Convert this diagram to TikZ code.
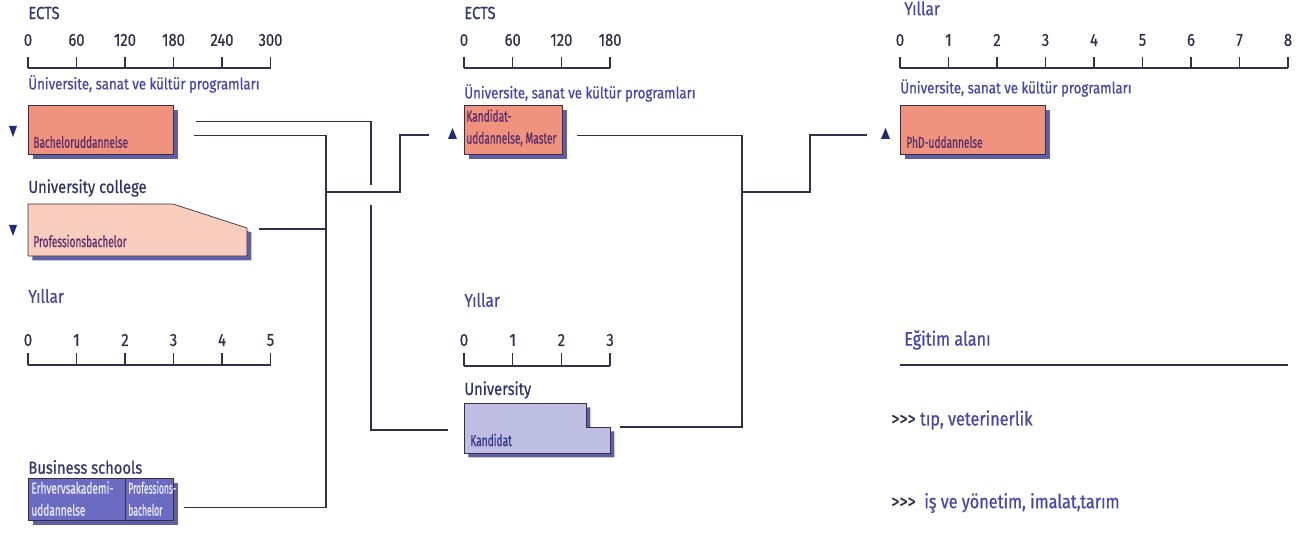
\documentclass[tikz,border=0pt]{standalone}
\usepackage{fontspec}
\setmainfont{Fira Sans}[FakeStretch=0.84, FakeBold=0.6]
\newfontfamily\narrowfont{Fira Sans}[FakeStretch=0.64, FakeBold=0.6]
\newfontfamily\tightfont{Fira Sans}[FakeStretch=0.54, FakeBold=0.6]
\usetikzlibrary{calc}
\usetikzlibrary{shadows}
\definecolor{navytext}{HTML}{30356E}
\definecolor{bluetext}{HTML}{4646AE}
\definecolor{linegrey}{HTML}{2E3148}
\definecolor{salmon}{HTML}{F0937E}
\definecolor{palesalmon}{HTML}{F9CDBE}
\definecolor{lavender}{HTML}{BEBEE3}
\definecolor{slateblue}{HTML}{6B6BC2}
\definecolor{boxshadow}{HTML}{2A2A8A}
\definecolor{boxedge}{HTML}{3A2E40}
\definecolor{marker}{HTML}{1E2A7E}
\definecolor{plum}{HTML}{5B2D6B}

\tikzset{
  conn/.style={draw=linegrey, line width=0.8pt},
  axis/.style={draw=linegrey, line width=0.7pt},
  num/.style={text=linegrey, font=\fontsize{10}{11}\selectfont, inner sep=0},
  head/.style={text=navytext, font=\fontsize{10}{12}\selectfont, anchor=west, inner sep=0},
  sub/.style={text=bluetext, font=\fontsize{9}{10}\selectfont, anchor=west, inner sep=0},
  years/.style={sub, font=\fontsize{10.5}{12}\selectfont},
  field/.style={sub, font=\fontsize{11}{13}\selectfont},
  shade box/.style={draw=boxedge, line width=0.4pt,
    drop shadow={shadow xshift=2.5pt, shadow yshift=-2.5pt, fill=boxshadow, opacity=0.75}},
  box/.style={shade box, anchor=north west, inner sep=0},
  boxtxt/.style={font=\narrowfont\fontsize{9}{12.5}\selectfont, anchor=west, inner sep=0, align=left}
}

\begin{document}
\begin{tikzpicture}[x=0.02cm, y=-0.02cm]
  \useasboundingbox (0,0) rectangle (1313,537);

  % left column: bachelor level
  \node[head] (ects1) at (28,13) {ECTS};
  \foreach \n [count=\i from 0] in {0,60,120,180,240,300} {
    \draw[axis] (28+48.5*\i,57) -- (28+48.5*\i,68);
    \node[num] at (28+48.5*\i,40) {\n};
  }
  \draw[axis] (28,68) -- (270.5,68);
  \node[sub] (uni1) at (28,84) {Üniversite, sanat ve kültür programları};

  \node[box, fill=salmon, minimum width=2.9cm, minimum height=0.98cm] (bach) at (28,105) {};
  \node[boxtxt, text=plum] at (33,142) {Bacheloruddannelse};
  \fill[marker] (9,126) -- (17,126) -- (13,137) -- cycle;

  \node[head] (ucoll) at (28,188) {University college};
  \path[shade box, fill=palesalmon] (28,204) -- (173,204) -- (247,228) -- (247,256) -- (28,256) -- cycle;
  \coordinate (profb) at (247,229);
  \node[boxtxt, text=plum] at (33,241) {Professionsbachelor};
  \fill[marker] (9,225) -- (17,225) -- (13,236) -- cycle;

  \node[years] (yil1) at (28,296) {Yıllar};
  \foreach \n in {0,...,5} {
    \draw[axis] (28+48.5*\n,353) -- (28+48.5*\n,365);
    \node[num] at (28+48.5*\n,340) {\n};
  }
  \draw[axis] (28,365) -- (270.5,365);

  \node[head] (bs) at (28,467) {Business schools};
  \node[box, fill=slateblue, minimum width=2.9cm, minimum height=0.84cm] (busi) at (28,478) {};
  \draw[boxedge, line width=0.4pt] ($(busi.north west)+(97,0)$) -- ($(busi.south west)+(97,0)$);
  \node[boxtxt, text=white!92!blue, anchor=north west] at (31,481) {Erhvervsakademi-\\uddannelse};
  \node[boxtxt, font=\tightfont\fontsize{9}{12.5}\selectfont, text=white!92!blue, anchor=north west] at (128,481) {Professions-\\bachelor};

  % middle column: master level
  \node[head] (ects2) at (464,13) {ECTS};
  \foreach \n [count=\i from 0] in {0,60,120,180} {
    \draw[axis] (464+48.7*\i,57) -- (464+48.7*\i,68);
    \node[num] at (464+48.7*\i,40) {\n};
  }
  \draw[axis] (464,68) -- (610,68);
  \node[sub] (uni2) at (464,93) {Üniversite, sanat ve kültür programları};

  \node[box, fill=salmon, minimum width=1.96cm, minimum height=0.98cm] (kandm) at (464,105) {};
  \node[boxtxt, text=plum, anchor=north west] at (466,109) {Kandidat-\\uddannelse, Master};
  \fill[marker] (448,139) -- (457,139) -- (452.5,128) -- cycle;
  \coordinate (kmark) at (452.5,135);

  \node[years] (yil2) at (464,300) {Yıllar};
  \foreach \n in {0,...,3} {
    \draw[axis] (464+48.7*\n,353) -- (464+48.7*\n,366);
    \node[num] at (464+48.7*\n,340) {\n};
  }
  \draw[axis] (464,366) -- (610,366);

  \node[head] (univ) at (464,390) {University};
  \path[shade box, fill=lavender] (464,403) -- (586,403) -- (586,427) -- (610,427) -- (610,453) -- (464,453) -- cycle;
  \coordinate (kandw) at (464,430);
  \coordinate (kande) at (610,427);
  \node[boxtxt, text=bluetext!80!black] at (470,440) {Kandidat};

  % right column: PhD level
  \node[years, anchor=north west] (yil3) at (904,1) {Yıllar};
  \foreach \n in {0,...,8} {
    \draw[axis] (900+48.5*\n,57) -- (900+48.5*\n,68);
    \node[num] at (900+48.5*\n,40) {\n};
  }
  \draw[axis] (900,68) -- (1288,68);
  \node[sub] (uni3) at (900,88) {Üniversite, sanat ve kültür programları};

  \node[box, fill=salmon, minimum width=2.9cm, minimum height=0.98cm] (phd) at (900,105) {};
  \node[boxtxt, text=plum] at (906,142) {PhD-uddannelse};
  \fill[marker] (881,139) -- (890,139) -- (885.5,128) -- cycle;
  \coordinate (pmark) at (885.5,135);

  \node[field] (egit) at (904,340) {Eğitim alanı};
  \draw[axis] (900,365) -- (1288,365);
  \node[field] (tip) at (891,420) {\textcolor{linegrey}{>{}>{}>} tıp, veterinerlik};
  \node[field] (isy) at (891,503) {\textcolor{linegrey}{>{}>{}>}\ \ iş ve yönetim, imalat,tarım};

  % connectors
  \coordinate (jl) at (326,192);
  \coordinate (jr) at (742,192);
  \draw[conn] ($(bach.east)+(20,5.5)$) -| (jl) |- ($(busi.east)+(10,8)$);
  \draw[conn] ($(profb)+(12,0)$) -- (jl |- profb);
  \draw[conn] ($(bach.east)+(22,-8.5)$) -| ($(jl)+(45,-7)$);
  \draw[conn] ($(jl)+(45,13)$) |- ($(kandw)+(-16,0)$);
  \draw[conn] (jl) -- ++(74,0) |- ($(kmark)+(-24,0)$);
  \draw[conn] ($(kandm.east)+(14,5.5)$) -| (jr) |- ($(kande)+(10,0)$);
  \draw[conn] (jr) -- ++(68,0) |- ($(pmark)+(-19,0)$);
\end{tikzpicture}
\end{document}
